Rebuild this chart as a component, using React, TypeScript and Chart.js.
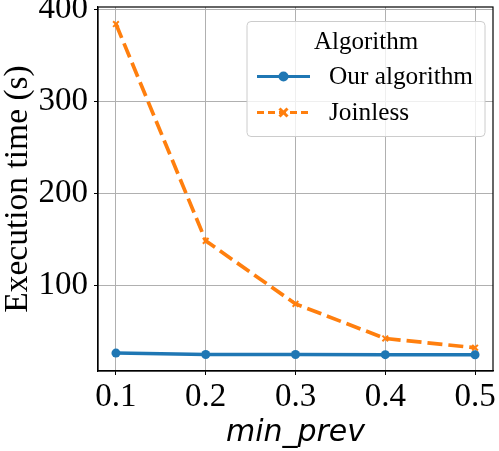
import React, { useEffect, useRef } from "react";
import { Chart, registerables } from "chart.js";

Chart.register(...registerables);

const xValues = [0.1, 0.2, 0.3, 0.4, 0.5];
const ourAlgorithm = [26.5, 25.0, 25.0, 24.8, 24.7];
const joinless = [384.5, 148.6, 80.0, 42.4, 32.3];
const xTicks = [0.1, 0.2, 0.3, 0.4, 0.5];
const yTicks = [100, 200, 300, 400];
const seriesLabels = ["Our algorithm", "Joinless"];
const legendTitle = "Algorithm";
const yTitle = "Execution time (s)";
const xTitle = "min_prev";

const BLUE = "#1f77b4";
const ORANGE = "#ff7f0e";
const SERIF = "'Liberation Serif', 'Times New Roman', serif";

export default function App() {
  const ref = useRef<HTMLCanvasElement>(null);
  useEffect(() => {
    document.body.style.margin = "0";
    const canvas = ref.current!;
    const boxPlugin = {
      id: "boxAndLegend",
      afterDraw(chart: any) {
        const { ctx, chartArea } = chart;
        const { left, right, top, bottom } = chartArea;
        ctx.save();
        ctx.strokeStyle = "#000";
        ctx.lineWidth = 1.2;
        ctx.strokeRect(left, top, right - left, bottom - top);
        // y title
        ctx.save();
        ctx.translate(18, (top + bottom) / 2);
        ctx.rotate(-Math.PI / 2);
        ctx.fillStyle = "#000";
        ctx.textAlign = "center";
        ctx.textBaseline = "middle";
        ctx.font = `33.5px ${SERIF}`;
        ctx.fillText(yTitle, 0, 0);
        ctx.restore();
        // legend
        const lx = 247, ly = 21.5, lw = 238, lh = 115;
        ctx.beginPath();
        const r = 4;
        ctx.moveTo(lx + r, ly);
        ctx.arcTo(lx + lw, ly, lx + lw, ly + lh, r);
        ctx.arcTo(lx + lw, ly + lh, lx, ly + lh, r);
        ctx.arcTo(lx, ly + lh, lx, ly, r);
        ctx.arcTo(lx, ly, lx + lw, ly, r);
        ctx.closePath();
        ctx.fillStyle = "rgba(255,255,255,0.8)";
        ctx.fill();
        ctx.strokeStyle = "#cccccc";
        ctx.lineWidth = 1;
        ctx.stroke();
        ctx.fillStyle = "#000";
        ctx.textBaseline = "middle";
        ctx.textAlign = "center";
        ctx.font = `25px ${SERIF}`;
        ctx.fillText(legendTitle, 366, 42);
        ctx.textAlign = "left";
        ctx.font = `25.3px ${SERIF}`;
        const rows = [76.5, 112.5];
        chart.data.datasets.forEach((ds: any, i: number) => {
          const y = rows[i];
          ctx.beginPath();
          ctx.setLineDash(i === 1 ? [7, 4] : []);
          ctx.strokeStyle = ds.borderColor;
          ctx.lineWidth = 3;
          ctx.moveTo(257, y);
          ctx.lineTo(310, y);
          ctx.stroke();
          ctx.setLineDash([]);
          const cx = 283.5;
          if (i === 0) {
            ctx.beginPath();
            ctx.fillStyle = BLUE;
            ctx.arc(cx, y, 5, 0, Math.PI * 2);
            ctx.fill();
          } else {
            ctx.beginPath();
            ctx.strokeStyle = ORANGE;
            ctx.lineWidth = 3;
            ctx.moveTo(cx - 4, y - 4);
            ctx.lineTo(cx + 4, y + 4);
            ctx.moveTo(cx - 4, y + 4);
            ctx.lineTo(cx + 4, y - 4);
            ctx.stroke();
          }
          ctx.fillStyle = "#000";
          ctx.fillText(ds.label, 329, y + 1);
        });
        ctx.restore();
      },
    };
    const zeroPad = (s: any) => {
      s.paddingTop = 0;
      s.paddingBottom = 0;
      s.paddingLeft = 0;
      s.paddingRight = 0;
    };
    const chart = new Chart(canvas, {
      type: "line",
      data: {
        datasets: [
          {
            label: seriesLabels[0],
            data: xValues.map((x, i) => ({ x, y: ourAlgorithm[i] })),
            borderColor: BLUE,
            backgroundColor: BLUE,
            borderWidth: 3.5,
            pointStyle: "circle",
            pointRadius: 4.5,
            pointBorderWidth: 0,
            pointBackgroundColor: BLUE,
          },
          {
            label: seriesLabels[1],
            data: xValues.map((x, i) => ({ x, y: joinless[i] })),
            borderColor: ORANGE,
            backgroundColor: ORANGE,
            borderWidth: 3.7,
            borderDash: [15, 6],
            pointStyle: "crossRot",
            pointRadius: 4,
            pointBorderWidth: 2,
            pointBorderColor: ORANGE,
          },
        ],
      },
      options: {
        animation: false,
        responsive: false,
        maintainAspectRatio: false,
        layout: { padding: { top: 7, right: 1, left: 0, bottom: 0 } },
        plugins: { legend: { display: false }, tooltip: { enabled: false } },
        scales: {
          x: {
            type: "linear",
            min: 0.08,
            max: 0.52,
            afterBuildTicks: (s: any) => {
              s.ticks = xTicks.map((v) => ({ value: v }));
            },
            afterFit: (s: any) => {
              s.height = 80;
              zeroPad(s);
            },
            ticks: {
              font: { family: SERIF, size: 33 },
              color: "#000",
              padding: 3,
              maxRotation: 0,
              callback: (v: any) => Number(v).toFixed(1),
            },
            grid: { color: "#b0b0b0", lineWidth: 1, tickLength: 4, tickColor: "#000" },
            border: { color: "#000", width: 1.2 },
            title: {
              display: true,
              text: xTitle,
              font: { family: "'DejaVu Sans', sans-serif", size: 30, style: "italic" },
              color: "#000",
              padding: { top: 0, bottom: 0 },
            },
          },
          y: {
            type: "linear",
            min: 7,
            max: 403,
            afterBuildTicks: (s: any) => {
              s.ticks = yTicks.map((v) => ({ value: v }));
            },
            afterFit: (s: any) => {
              s.width = 98;
              zeroPad(s);
            },
            ticks: {
              font: { family: SERIF, size: 33 },
              color: "#000",
              padding: 6,
            },
            grid: { color: "#b0b0b0", lineWidth: 1, tickLength: 4, tickColor: "#000" },
            border: { color: "#000", width: 1.2 },
            title: { display: false },
          },
        },
      },
      plugins: [boxPlugin],
    } as any);
    return () => chart.destroy();
  }, []);
  return <canvas ref={ref} width={499} height={451} style={{ display: "block" }} />;
}
